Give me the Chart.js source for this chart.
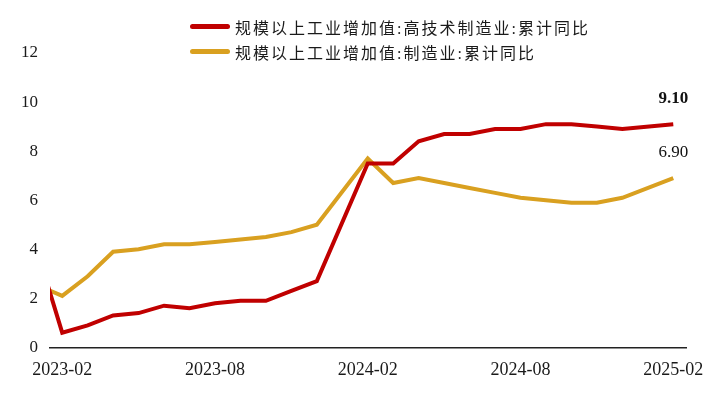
<!DOCTYPE html>
<html>
<head>
<meta charset="utf-8">
<script src="https://cdn.jsdelivr.net/npm/chart.js@4/dist/chart.umd.min.js"></script>
<style>
  html, body { margin: 0; padding: 0; background: #fff; }
  #wrap { position: relative; width: 718px; height: 398px; }
  #legend { position: absolute; left: 190px; top: 14px; }
  .row { display: flex; align-items: center; height: 25px; }
  .swatch { width: 40px; height: 5px; border-radius: 3px; margin-right: 5px; }
  .txt { font: 16px "Liberation Serif", "Noto Sans CJK SC", serif; letter-spacing: 2px; color: #1a1a1a; white-space: nowrap; }
</style>
</head>
<body>
<div id="wrap">
  <canvas id="chart" width="718" height="398"></canvas>
  <div id="legend"></div>
</div>
<script>
// months (January is not published separately, so it is skipped)
const months = [
  '2022-12',
  '2023-02', '2023-03', '2023-04', '2023-05', '2023-06', '2023-07',
  '2023-08', '2023-09', '2023-10', '2023-11', '2023-12',
  '2024-02', '2024-03', '2024-04', '2024-05', '2024-06', '2024-07',
  '2024-08', '2024-09', '2024-10', '2024-11', '2024-12',
  '2025-02'
];
const highTech = [
  7.4,
  0.6, 0.9, 1.3, 1.4, 1.7, 1.6, 1.8, 1.9, 1.9, 2.3, 2.7,
  7.5, 7.5, 8.4, 8.7, 8.7, 8.9, 8.9, 9.1, 9.1, 9.0, 8.9,
  9.1
];
const manufacturing = [
  3.0,
  2.1, 2.9, 3.9, 4.0, 4.2, 4.2, 4.3, 4.4, 4.5, 4.7, 5.0,
  7.7, 6.7, 6.9, 6.7, 6.5, 6.3, 6.1, 6.0, 5.9, 5.9, 6.1,
  6.9
];
const tickLabels = ['2023-02', '2023-08', '2024-02', '2024-08', '2025-02'];
const seriesNames = [
  '规模以上工业增加值:高技术制造业:累计同比',
  '规模以上工业增加值:制造业:累计同比'
];
const colors = ['#C00000', '#D9A020'];

// month string -> number of months after 2023-02
function monthIndex(s) {
  const [y, m] = s.split('-').map(Number);
  return (y - 2023) * 12 + (m - 2);
}
function indexLabel(v) {
  const t = v + 1; // months after 2023-01
  const y = 2023 + Math.floor(t / 12);
  const m = (t % 12) + 1;
  return y + '-' + String(m).padStart(2, '0');
}

function toPoints(values) {
  return values.map((v, i) => ({ x: monthIndex(months[i]), y: v }));
}

const serif = '"Liberation Serif", "Times New Roman", serif';

// value labels above the last point of each line
const endLabels = {
  id: 'endLabels',
  afterDatasetsDraw(chart) {
    const ctx = chart.ctx;
    ctx.save();
    chart.data.datasets.forEach((ds, i) => {
      const meta = chart.getDatasetMeta(i);
      const pt = meta.data[meta.data.length - 1];
      const val = ds.data[ds.data.length - 1].y;
      ctx.font = (i === 0 ? 'bold ' : '') + '17px ' + serif;
      ctx.fillStyle = '#111';
      ctx.textAlign = 'center';
      ctx.textBaseline = 'middle';
      ctx.fillText(val.toFixed(2), pt.x, pt.y - 26);
    });
    ctx.restore();
  }
};

const chart = new Chart(document.getElementById('chart'), {
  type: 'line',
  data: {
    datasets: [
      {
        label: seriesNames[0],
        data: toPoints(highTech),
        borderColor: colors[0],
        backgroundColor: colors[0],
        borderWidth: 4,
        pointRadius: 0,
        tension: 0
      },
      {
        label: seriesNames[1],
        data: toPoints(manufacturing),
        borderColor: colors[1],
        backgroundColor: colors[1],
        borderWidth: 4,
        pointRadius: 0,
        tension: 0
      }
    ]
  },
  options: {
    responsive: false,
    animation: false,
    layout: { padding: { left: 9, right: 32, top: 53, bottom: 5 } },
    plugins: {
      legend: { display: false },
      tooltip: { enabled: false }
    },
    scales: {
      x: {
        type: 'linear',
        min: -0.48,
        max: 24.5,
        afterBuildTicks: axis => {
          axis.ticks = tickLabels.map(l => ({ value: monthIndex(l) }));
        },
        ticks: {
          callback: v => indexLabel(v),
          font: { family: serif, size: 18 },
          color: '#1a1a1a',
          padding: 12,
          maxRotation: 0,
          autoSkip: false
        },
        grid: { display: false, drawTicks: false },
        border: { display: true, color: '#222', width: 1.5 }
      },
      y: {
        min: 0,
        max: 12,
        ticks: {
          stepSize: 2,
          font: { family: serif, size: 17 },
          color: '#1a1a1a',
          padding: 12
        },
        grid: { display: false, drawTicks: false },
        border: { display: false }
      }
    }
  },
  plugins: [endLabels]
});

// legend, one series per row
const legend = document.getElementById('legend');
chart.data.datasets.forEach(ds => {
  const row = document.createElement('div');
  row.className = 'row';
  const sw = document.createElement('span');
  sw.className = 'swatch';
  sw.style.background = ds.borderColor;
  const txt = document.createElement('span');
  txt.className = 'txt';
  txt.textContent = ds.label;
  row.appendChild(sw);
  row.appendChild(txt);
  legend.appendChild(row);
});
</script>
</body>
</html>
